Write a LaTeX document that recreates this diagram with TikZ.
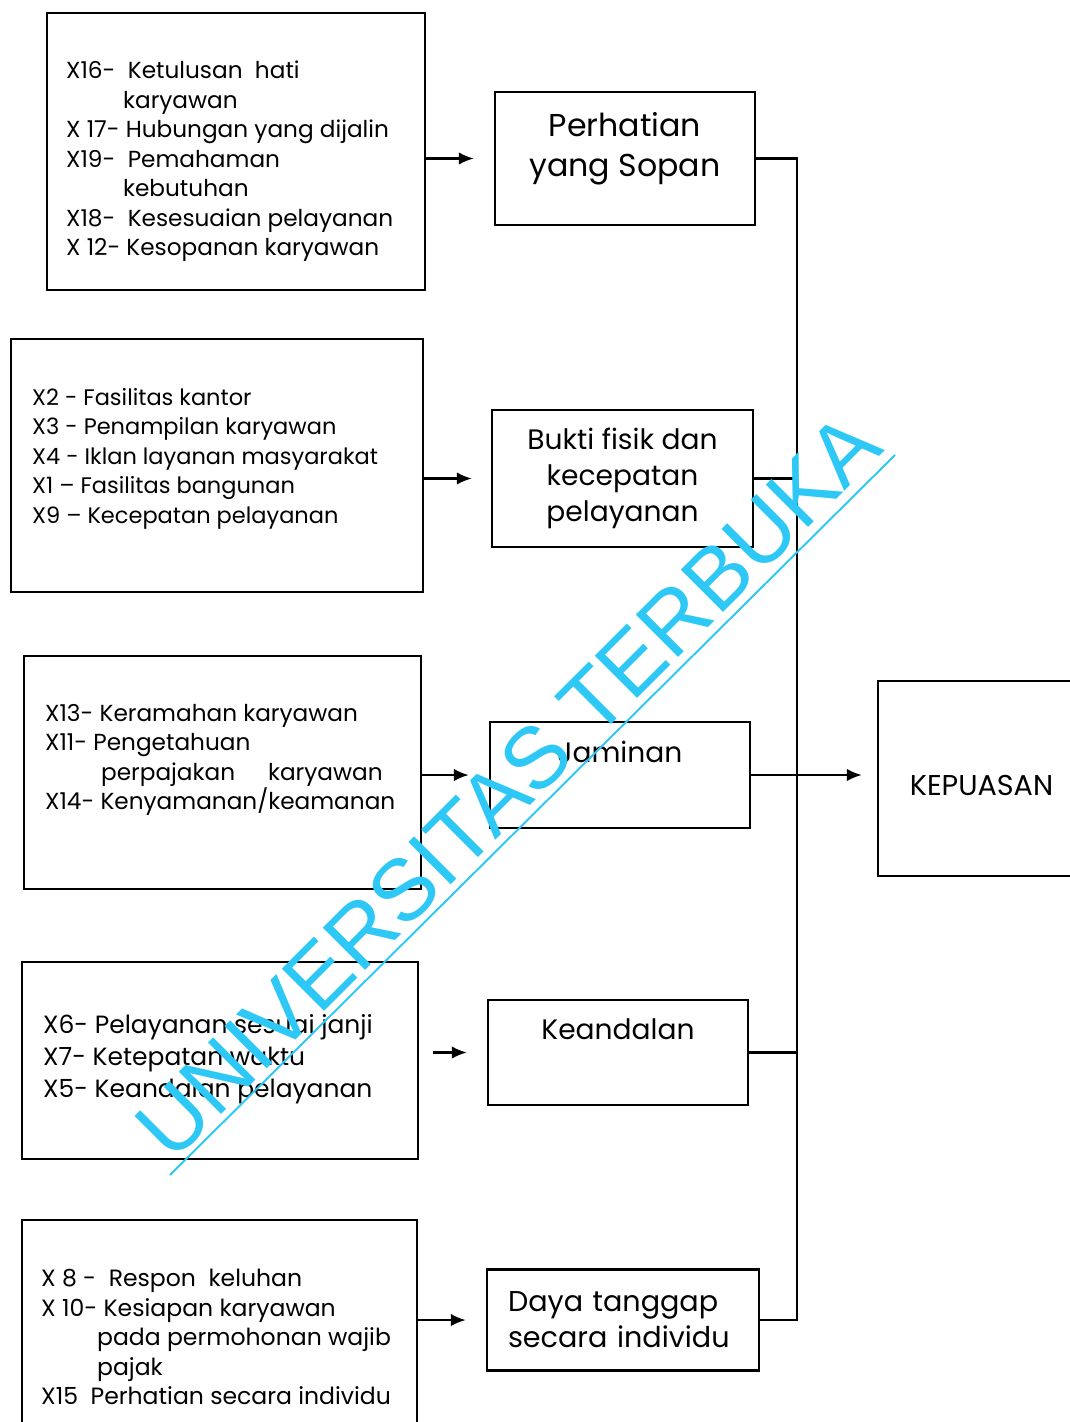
\documentclass[tikz,border=0pt]{standalone}
\usepackage{fontspec}
\setmainfont{Poppins}
\newfontfamily\wmfont{Liberation Sans}
\usetikzlibrary{arrows.meta}
\definecolor{wmcyan}{RGB}{45,200,245}

\begin{document}
\begin{tikzpicture}[x=0.02cm,y=-0.02cm,
  box/.style = {draw, line width=1.4pt, inner sep=0pt},
  item/.style = {anchor=north west, align=left, inner sep=0pt, font=\fontsize{13.2}{16.8}\selectfont},
  faktor/.style = {draw, line width=1.4pt, align=center, inner sep=0pt, font=\fontsize{16}{20.4}\selectfont},
  arr/.style = {line width=1.2pt, -{Latex[length=0.3cm,width=0.25cm]}},
  bus/.style = {line width=1.2pt},
  wm/.style = {anchor=base, rotate=45, inner sep=0pt, text=wmcyan, font=\wmfont\fontsize{49.5}{49.5}\selectfont}]

\fill[white] (0,0) rectangle (1070,1422);
\clip (0,0) rectangle (1070,1422);

% variabel (indikator)
\node[box, minimum width=7.56cm, minimum height=5.54cm] (L1) at (236,151.5) {};
\node[box, minimum width=8.24cm, minimum height=5.06cm] (L2) at (217,465.5) {};
\node[box, minimum width=7.94cm, minimum height=4.66cm] (L3) at (222.5,772.5) {};
\node[box, minimum width=7.92cm, minimum height=3.94cm] (L4) at (220,1060.5) {};
\node[box, minimum width=7.90cm, minimum height=5.0cm] (L5) at (219.5,1345) {};

\node[item] (t1) at ([shift={(0.4cm,-0.98cm)}]L1.north west)
  {X16-\ \ Ketulusan\ \ hati\\
   \hspace*{1.14cm}karyawan\\
   X 17- Hubungan yang dijalin\\
   X19-\ \ Pemahaman\\
   \hspace*{1.14cm}kebutuhan\\
   X18-\ \ Kesesuaian pelayanan\\
   X 12- Kesopanan karyawan};
\node[item, font=\fontsize{12.8}{16.8}\selectfont] (t2) at ([shift={(0.44cm,-1.0cm)}]L2.north west)
  {X2 - Fasilitas kantor\\
   X3 - Penampilan karyawan\\
   X4 - Iklan layanan masyarakat\\
   X1 – Fasilitas bangunan\\
   X9 – Kecepatan pelayanan};
\node[item] (t3) at ([shift={(0.44cm,-0.98cm)}]L3.north west)
  {X13- Keramahan karyawan\\
   X11- Pengetahuan\\
   \hspace*{1.12cm}perpajakan\hspace{0.66cm}karyawan\\
   X14- Kenyamanan/keamanan};
\node[item, font=\fontsize{14.2}{18.4}\selectfont] (t4) at ([shift={(0.44cm,-1.06cm)}]L4.north west)
  {X6- Pelayanan sesuai janji\\
   X7- Ketepatan waktu\\
   X5- Keandalan pelayanan};
\node[item, font=\fontsize{13.4}{16.8}\selectfont] (t5) at ([shift={(0.4cm,-1.0cm)}]L5.north west)
  {X 8 -\ \ Respon\ \ keluhan\\
   X 10- Kesiapan karyawan\\
   \hspace*{1.12cm}pada permohonan wajib\\
   \hspace*{1.12cm}pajak\\
   X15\ \ Perhatian secara individu};

% dimensi
\node[faktor, minimum width=5.2cm, minimum height=2.66cm, font=\fontsize{18}{22.7}\selectfont] (M1) at (625,158.5) {Perhatian\\yang Sopan\\[-13.7pt]\strut};
\node[faktor, minimum width=5.22cm, minimum height=2.74cm] (M2) at (622.5,478.5) {Bukti fisik dan\\kecepatan\\pelayanan};
\node[faktor, minimum width=5.2cm, minimum height=2.12cm] (M3) at (620,775) {Jaminan\\\strut};
\node[faktor, minimum width=5.2cm, minimum height=2.1cm] (M4) at (618,1052.5) {Keandalan\\\strut};
\node[faktor, minimum width=5.44cm, minimum height=2.02cm, text width=4.6cm, align=left, font=\fontsize{16.3}{20.4}\selectfont] (M5) at (623,1320) {Daya tanggap\\secara individu};

\node[faktor, minimum width=4.14cm, minimum height=3.9cm, font=\fontsize{16.3}{20}\selectfont] (K) at (981.5,778.5) {\raisebox{-0.33cm}[0pt][0pt]{KEPUASAN}};

\coordinate (b) at (797,0);

\draw[arr, shorten >=0.4cm] (L1.east |- M1) -- (M1);
\draw[arr, shorten >=0.38cm] (L2.east |- M2) -- (M2);
\draw[arr, shorten >=0.4cm] (L3.east |- M3) -- (M3);
\draw[arr, shorten <=0.28cm, shorten >=0.4cm] (L4.east |- M4) -- (M4);
\draw[arr, shorten >=0.4cm] (L5.east |- M5) -- (M5);

\draw[bus] (M1.east) -- (M1.east -| b) -- (M5.east -| b) -- (M5.east);
\draw[bus] (M2.east) -- (M2.east -| b);
\draw[bus] (M4.east) -- (M4.east -| b);
\draw[arr, shorten >=0.3cm] (M3.east) -- (M3.east -| K.west);

% watermark
\node[wm] (wm) at (529,807) {UNIVERSITAS TERBUKA};
\draw[wmcyan, line width=1.1pt] (170,1175) -- (895,455);
\end{tikzpicture}
\end{document}
